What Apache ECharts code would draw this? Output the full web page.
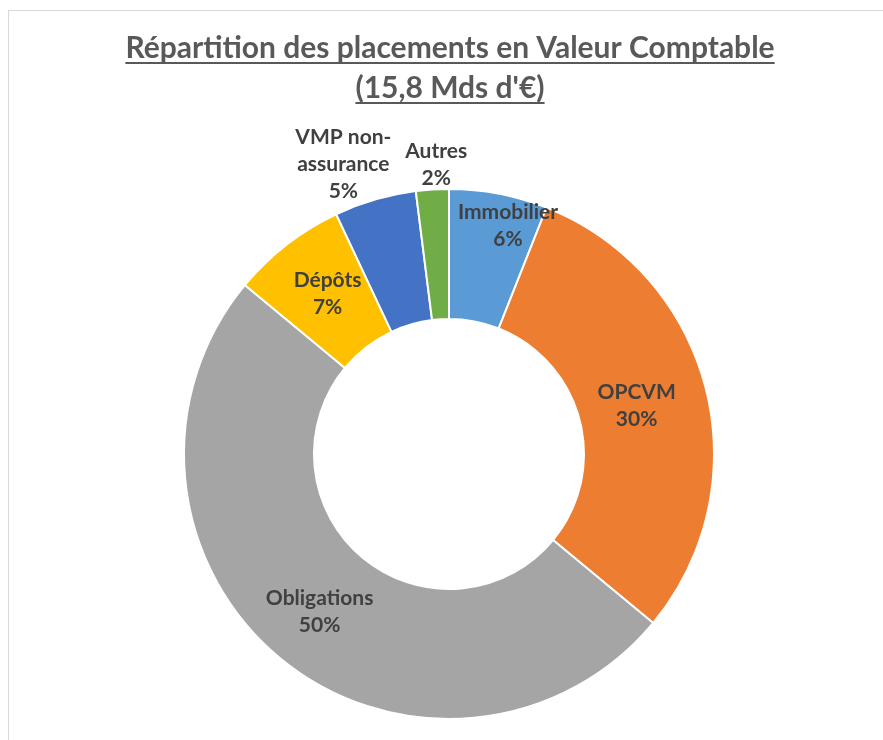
<!DOCTYPE html>
<html lang="fr">
<head>
    <meta charset="UTF-8">
    <title>Répartition des placements</title>
    <script src="https://cdn.jsdelivr.net/npm/echarts@6/dist/echarts.min.js"></script>
    <style>
        body {
            margin: 0;
            padding: 0;
            background: #fff;
            overflow: hidden;
        }
        #frame {
            position: absolute;
            left: 8px;
            top: 10px;
            width: 900px;
            height: 760px;
            border-left: 1px solid #d9d9d9;
            border-top: 1px solid #d9d9d9;
        }
        #box {
            position: absolute;
            left: 0;
            top: 0;
            width: 883px;
            height: 740px;
        }
    </style>
</head>
<body>
<div id="frame"></div>
<div id="box"></div>

<script>
    // données
    var categories = ['Immobilier', 'OPCVM', 'Obligations', 'Dépôts', 'VMP non-\nassurance', 'Autres'];
    var values = [6, 30, 50, 7, 5, 2];
    var colors = ['#5B9BD5', '#ED7D31', '#A5A5A5', '#FFC000', '#4472C4', '#70AD47'];
    var titleLines = ['Répartition des placements en Valeur Comptable', "(15,8 Mds d'€)"];

    // petits décalages des étiquettes (comme le "meilleur ajustement" d'Excel)
    var labelNudge = [[21, -29], [-9, 2], [0, 1], [3, 0], [-49, -95], [0, -87]];

    var fontFamily = 'Lato, "Open Sans", sans-serif';
    var titleSize = 30;
    var titleCenterX = 450;
    var titleCenterY = [48, 88];

    var pieData = categories.map(function (name, i) {
        return {name: name, value: values[i], itemStyle: {color: colors[i]}};
    });

    // titre souligné : on mesure le texte pour placer le trait
    var ctx = document.createElement('canvas').getContext('2d');
    ctx.font = 'bold ' + titleSize + 'px ' + fontFamily;
    var titles = [];
    var underlines = [];
    titleLines.forEach(function (t, i) {
        var w = ctx.measureText(t).width;
        var x0 = titleCenterX - w / 2;
        titles.push({
            text: t,
            left: x0,
            top: titleCenterY[i] - 20,
            padding: 0,
            textStyle: {
                fontFamily: fontFamily,
                fontWeight: 'bold',
                fontSize: titleSize,
                lineHeight: 40,
                color: '#595959'
            }
        });
        underlines.push({
            type: 'line',
            shape: {x1: x0, y1: titleCenterY[i] + 15, x2: x0 + w, y2: titleCenterY[i] + 15},
            style: {stroke: '#595959', lineWidth: 2}
        });
    });

    var myChart = echarts.init(document.getElementById('box'));
    var option = {
        backgroundColor: 'transparent',
        title: titles,
        graphic: underlines,
        series: [
            {
                type: 'pie',
                center: [449, 454],
                radius: [135, 265],
                startAngle: 90,
                clockwise: true,
                animation: false,
                itemStyle: {
                    borderColor: '#fff',
                    borderWidth: 2
                },
                label: {
                    position: 'inside',
                    formatter: '{b}\n{d}%',
                    fontFamily: fontFamily,
                    fontWeight: 'bold',
                    fontSize: 21,
                    lineHeight: 27,
                    color: '#404040',
                    align: 'center'
                },
                labelLine: {show: false},
                labelLayout: function (params) {
                    var d = labelNudge[params.dataIndex];
                    return {dx: d[0], dy: d[1]};
                },
                data: pieData
            }
        ]
    };
    myChart.setOption(option);
</script>
</body>
</html>
